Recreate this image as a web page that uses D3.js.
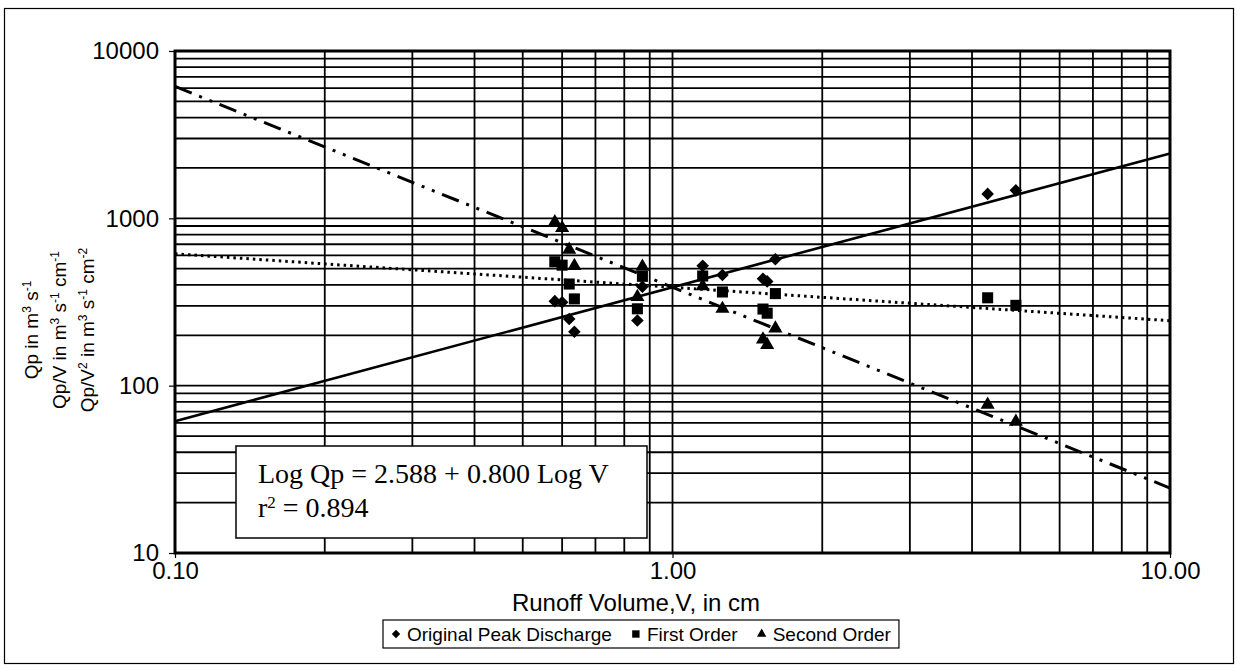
<!DOCTYPE html>
<html>
<head>
<meta charset="utf-8">
<script src="https://cdn.jsdelivr.net/npm/d3@7"></script>
<style>
  body { margin: 0; background: #fff; }
  text { font-family: "Liberation Sans", Arial, sans-serif; fill: #000; }
</style>
</head>
<body>
<svg id="chart" width="1237" height="671"></svg>
<script>
// Runoff volume (cm) of each event, and the three plotted series
const runoffV     = [0.58, 0.60, 0.62, 0.635, 0.85, 0.87, 1.15, 1.26, 1.52, 1.55, 1.61, 4.3, 4.9];
const peakQp      = [320, 315, 250, 210, 245, 390, 520, 458, 435, 420, 570, 1400, 1470];
const firstOrder  = [550, 525, 405, 330, 288, 450, 452, 363, 287, 271, 355, 335, 302];
const secondOrder = [950, 875, 650, 520, 339, 515, 393, 288, 189, 175, 220, 77, 61];

const seriesNames = ["Original Peak Discharge", "First Order", "Second Order"];
const seriesSymbols = ["diamond", "square", "triangle"];

// trendline  Log y = a + b Log V  (b for each series)
const trendIntercept = 2.588;
const trendSlopes = [0.800, -0.200, -1.200];

const xTickValues = [0.1, 1, 10];
const xTickLabels = ["0.10", "1.00", "10.00"];
const yTickValues = [10, 100, 1000, 10000];
const yTickLabels = ["10", "100", "1000", "10000"];

const svg = d3.select("#chart");
const plot = { left: 175, right: 1170, top: 51, bottom: 553 };

// outer chart border
svg.append("rect")
  .attr("x", 4.5).attr("y", 8.5)
  .attr("width", 1229).attr("height", 655)
  .attr("fill", "none").attr("stroke", "#000").attr("stroke-width", 1.2);

const x = d3.scaleLog().domain([0.1, 10]).range([plot.left, plot.right]);
const y = d3.scaleLog().domain([10, 10000]).range([plot.bottom, plot.top]);

// grid lines (major + minor)
const grid = svg.append("g");
grid.selectAll("line.gx")
  .data(x.ticks())
  .enter().append("line")
  .attr("x1", d => x(d)).attr("x2", d => x(d))
  .attr("y1", plot.top).attr("y2", plot.bottom)
  .attr("stroke", "#000").attr("stroke-width", 1.8);
grid.selectAll("line.gy")
  .data(y.ticks())
  .enter().append("line")
  .attr("y1", d => y(d)).attr("y2", d => y(d))
  .attr("x1", plot.left).attr("x2", plot.right)
  .attr("stroke", "#000").attr("stroke-width", 1.8);

// plot frame
svg.append("rect")
  .attr("x", plot.left).attr("y", plot.top)
  .attr("width", plot.right - plot.left).attr("height", plot.bottom - plot.top)
  .attr("fill", "none").attr("stroke", "#000").attr("stroke-width", 3);

// axes
const xAxis = svg.append("g")
  .attr("transform", `translate(0,${plot.bottom})`)
  .call(d3.axisBottom(x).tickValues(xTickValues)
    .tickFormat((d, i) => xTickLabels[i]).tickSize(5).tickPadding(4));
const yAxis = svg.append("g")
  .attr("transform", `translate(${plot.left},0)`)
  .call(d3.axisLeft(y).tickValues(yTickValues)
    .tickFormat((d, i) => yTickLabels[i]).tickSize(6).tickPadding(10));
[xAxis, yAxis].forEach(a => {
  a.select(".domain").remove();
  a.selectAll("line").attr("stroke", "#000").attr("stroke-width", 1.2);
  a.selectAll("text").style("font-size", "24px").style("font-family", "Liberation Sans, Arial");
});

// trendlines
const trendStyles = [
  { dash: null, width: 2.6 },
  { dash: "2.5,4", width: 3 },
  { dash: "18,8,3,8,3,8", width: 3 }
];
trendSlopes.forEach((b, i) => {
  const ends = x.domain().map(v => [v, Math.pow(10, trendIntercept + b * Math.log10(v))]);
  svg.append("path")
    .datum(ends)
    .attr("d", d3.line().x(d => x(d[0])).y(d => y(d[1])))
    .attr("fill", "none").attr("stroke", "#000")
    .attr("stroke-width", trendStyles[i].width)
    .attr("stroke-dasharray", trendStyles[i].dash);
});

// markers
function marker(sel, type, s) {
  if (type === "diamond") {
    sel.append("path").attr("d", d3.symbol(d3.symbolSquare, s * s * 0.55)())
      .attr("transform", "rotate(45)");
  } else if (type === "square") {
    sel.append("path").attr("d", d3.symbol(d3.symbolSquare, s * s * 0.85)());
  } else {
    sel.append("path").attr("d", d3.symbol(d3.symbolTriangle, s * s * 0.6)());
  }
}
const allSeries = [peakQp, firstOrder, secondOrder];
allSeries.forEach((vals, si) => {
  const g = svg.append("g");
  vals.forEach((v, i) => {
    const m = g.append("g")
      .attr("transform", `translate(${x(runoffV[i])},${y(v)})`)
      .attr("fill", "#000");
    marker(m, seriesSymbols[si], 12);
  });
});

// regression box
const box = svg.append("g");
box.append("rect")
  .attr("x", 236).attr("y", 446).attr("width", 411).attr("height", 92)
  .attr("fill", "#fff").attr("stroke", "#000").attr("stroke-width", 1.5);
const eq = box.append("text").attr("x", 258).attr("y", 483)
  .style("font-family", "Liberation Serif, Times New Roman").style("font-size", "28px");
eq.text("Log Qp = 2.588 + 0.800 Log V");
const r2 = box.append("text").attr("x", 258).attr("y", 517)
  .style("font-family", "Liberation Serif, Times New Roman").style("font-size", "28px");
r2.append("tspan").text("r");
r2.append("tspan").attr("baseline-shift", "super").style("font-size", "17px").text("2");
r2.append("tspan").text(" = 0.894");

// axis titles
svg.append("text")
  .attr("x", 636).attr("y", 611)
  .attr("text-anchor", "middle")
  .style("font-size", "24px")
  .text("Runoff Volume,V, in cm");

const yTitle = [
  [["Qp in m", 0], ["3", 1], [" s", 0], ["-1", 1]],
  [["Qp/V in m", 0], ["3", 1], [" s", 0], ["-1", 1], [" cm", 0], ["-1", 1]],
  [["Qp/V", 0], ["2", 1], [" in m", 0], ["3", 1], [" s", 0], ["-1", 1], [" cm", 0], ["-2", 1]]
];
yTitle.forEach((parts, li) => {
  const t = svg.append("text")
    .attr("transform", `translate(${38 + li * 28},330) rotate(-90)`)
    .attr("text-anchor", "middle")
    .style("font-size", "19px");
  parts.forEach(p => {
    const ts = t.append("tspan").text(p[0]);
    if (p[1]) ts.attr("baseline-shift", "super").style("font-size", "12px");
  });
});

// legend, laid out from measured text widths
const legend = svg.append("g");
const legendBox = legend.append("rect")
  .attr("x", 383).attr("y", 620).attr("height", 28)
  .attr("fill", "#fff").attr("stroke", "#000").attr("stroke-width", 1.2);
let lx = 396;
seriesNames.forEach((name, i) => {
  const m = legend.append("g")
    .attr("transform", `translate(${lx},634)`).attr("fill", "#000");
  marker(m, seriesSymbols[i], 8);
  const t = legend.append("text")
    .attr("x", lx + 11).attr("y", 641)
    .style("font-size", "19px")
    .text(name);
  lx += 11 + t.node().getComputedTextLength() + 24;
});
legendBox.attr("width", lx - 24 + 8 - 383);
</script>
</body>
</html>
